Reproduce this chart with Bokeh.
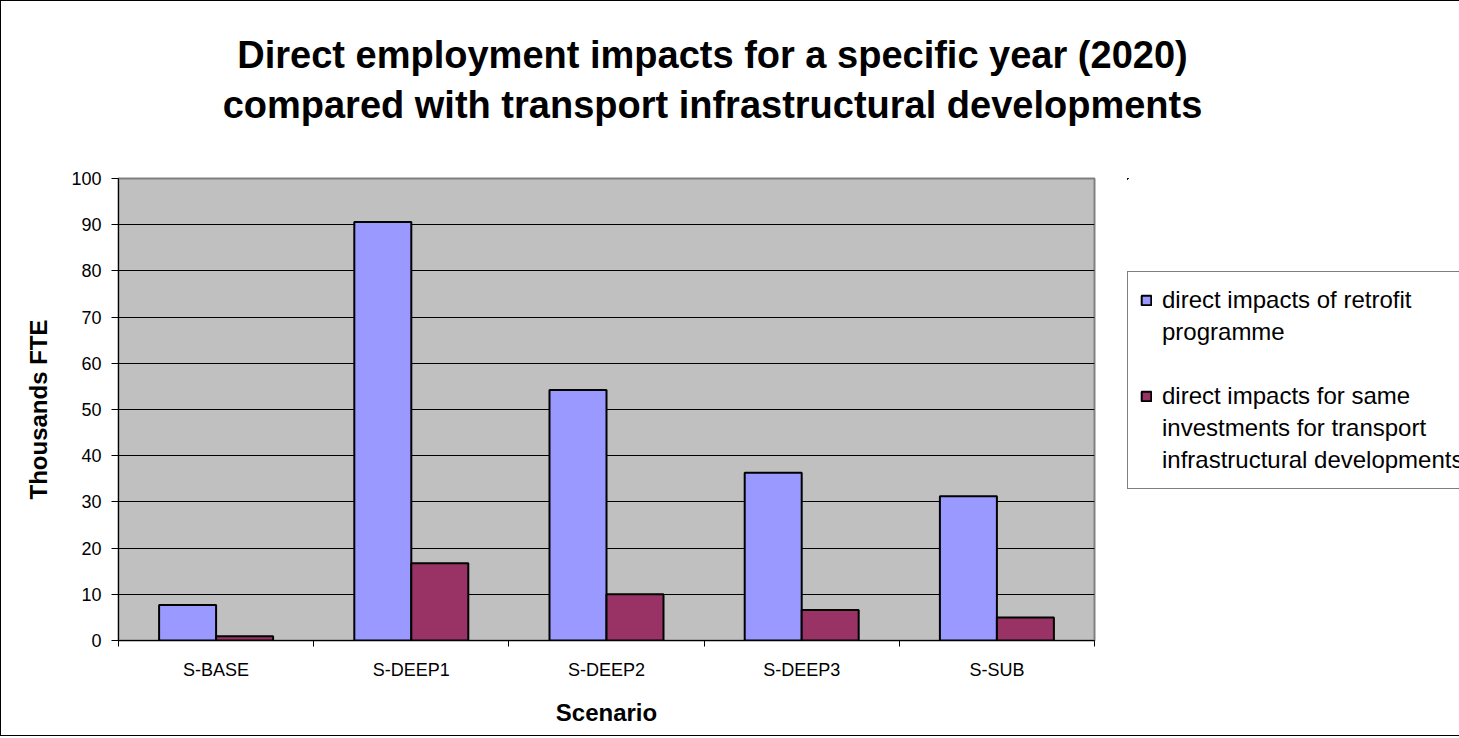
import numpy as np
from bokeh.plotting import figure
from bokeh.layouts import column, row
from bokeh.models import (Range1d, FixedTicker, Legend, LegendItem, Label,
                          ColumnDataSource)
from bokeh.embed import file_html
from bokeh.resources import INLINE

# ---- data ----
categories = ["S-BASE", "S-DEEP1", "S-DEEP2", "S-DEEP3", "S-SUB"]
retrofit = [7.7, 90.6, 54.2, 36.3, 31.2]
transport = [0.9, 16.7, 10.0, 6.6, 5.0]
series_label_lines = [["direct impacts of retrofit", "programme"],
                      ["direct impacts for same", "investments for transport",
                       "infrastructural developments"]]
series_colors = ["#9999FF", "#993366"]
y_ticks = list(range(0, 101, 10))
title_lines = ["Direct employment impacts for a specific year (2020)",
               "compared with transport infrastructural developments"]

FONT = "Liberation Sans"

n = len(categories)
centers = np.arange(n) + 0.5
bw = 0.292

src = ColumnDataSource(dict(x1=centers - bw / 2, x2=centers + bw / 2,
                            retrofit=retrofit, transport=transport))

def blank(width, height, x_range=None, y_range=None):
    f = figure(width=width, height=height, output_backend="svg", toolbar_location=None,
               x_axis_type=None, y_axis_type=None,
               x_range=x_range or Range1d(0, 1), y_range=y_range or Range1d(0, 1),
               min_border=0)
    f.min_border_left = f.min_border_right = f.min_border_top = f.min_border_bottom = 0
    f.outline_line_color = None
    f.background_fill_color = "white"
    f.border_fill_color = "white"
    f.xgrid.visible = False
    f.ygrid.visible = False
    return f

# ---- title strip ----
pt = blank(1458, 165)
for i, line in enumerate(title_lines):
    pt.add_layout(Label(x=711, y=112 - 50 * i, x_units="screen", y_units="screen",
                        text=line, text_align="center", text_baseline="alphabetic",
                        text_font=FONT, text_font_size="38px", text_font_style="bold",
                        text_color="black"))

# ---- main chart ----
p = figure(width=1126, height=569, output_backend="svg", toolbar_location=None,
           x_range=Range1d(0, n), y_range=Range1d(0, 100),
           min_border_left=117, min_border_right=33,
           min_border_top=12, min_border_bottom=95)
p.background_fill_color = "#C0C0C0"
p.border_fill_color = "white"
p.outline_line_color = "#808080"
p.outline_line_width = 2

bar_kw = dict(width=bw, bottom=0, source=src, line_color="black", line_width=2)
r1 = p.vbar(x="x1", top="retrofit", fill_color=series_colors[0], **bar_kw)
r2 = p.vbar(x="x2", top="transport", fill_color=series_colors[1], **bar_kw)

p.xgrid.visible = False
p.ygrid.grid_line_color = "black"
p.ygrid.grid_line_width = 1
p.ygrid.ticker = FixedTicker(ticks=y_ticks)

p.yaxis.ticker = FixedTicker(ticks=y_ticks)
p.yaxis.major_tick_out = 7
p.yaxis.major_tick_in = 0
p.yaxis.minor_tick_line_color = None
p.yaxis.major_label_standoff = 10
p.yaxis.major_label_text_font = FONT
p.yaxis.major_label_text_font_size = "18px"
p.yaxis.axis_label = "Thousands FTE"
p.yaxis.axis_label_text_font = FONT
p.yaxis.axis_label_text_font_size = "24px"
p.yaxis.axis_label_text_font_style = "bold"
p.yaxis.axis_label_standoff = 16

p.xaxis.ticker = FixedTicker(ticks=list(centers), minor_ticks=list(np.arange(n + 1)))
p.xaxis.major_label_overrides = {float(c): lab for c, lab in zip(centers, categories)}
p.xaxis.major_tick_out = 0
p.xaxis.major_tick_in = 0
p.xaxis.minor_tick_out = 6
p.xaxis.minor_tick_in = 0
p.xaxis.minor_tick_line_color = "black"
p.xaxis.major_label_standoff = 13
p.xaxis.major_label_text_font = FONT
p.xaxis.major_label_text_font_size = "18px"
p.xaxis.axis_label = "Scenario"
p.xaxis.axis_label_text_font = FONT
p.xaxis.axis_label_text_font_size = "24px"
p.xaxis.axis_label_text_font_style = "bold"
p.xaxis.axis_label_standoff = 16

for ax in (p.xaxis, p.yaxis):
    ax.axis_line_color = "black"
    ax.major_tick_line_color = "black"
    ax.major_label_text_color = "black"
    ax.axis_label_text_color = "black"

# ---- legend panel (same series, drawn entirely outside its view so only the key shows) ----
pl = blank(332, 569, x_range=Range1d(100, 200), y_range=Range1d(-200, -100))
l1 = pl.vbar(x="x1", top="retrofit", fill_color=series_colors[0], **bar_kw)
l2 = pl.vbar(x="x2", top="transport", fill_color=series_colors[1], **bar_kw)

items = []
for lines, rend in zip(series_label_lines, [l1, l2]):
    if items:
        items.append(LegendItem(label=" ", renderers=[]))
    items.append(LegendItem(label=lines[0], renderers=[rend]))
    for extra in lines[1:]:
        items.append(LegendItem(label=extra, renderers=[]))

legend = Legend(items=items, location=(0, 151), orientation="vertical")
legend.label_text_font = FONT
legend.label_text_font_size = "24px"
legend.label_text_color = "black"
legend.label_height = 32
legend.glyph_width = 12
legend.glyph_height = 12
legend.label_standoff = 10
legend.spacing = 0
legend.padding = 12
legend.margin = 0
legend.border_line_color = "black"
legend.border_line_width = 1
legend.background_fill_color = "white"
legend.background_fill_alpha = 1
pl.add_layout(legend)

layout = column(pt, row(p, pl, spacing=0), spacing=0)
layout.styles = {"border-left": "1px solid black", "border-top": "1px solid black",
                 "border-bottom": "1px solid black"}

open("out.html", "w").write(file_html(layout, INLINE))
